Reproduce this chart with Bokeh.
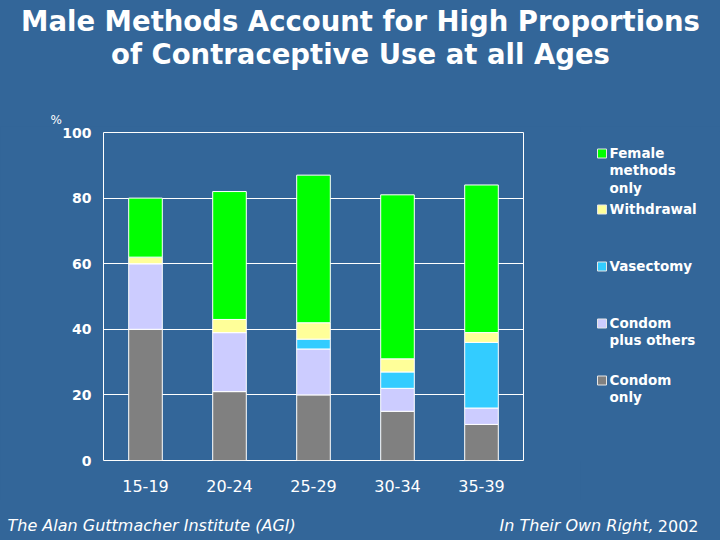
from bokeh.plotting import figure
from bokeh.layouts import column, row
from bokeh.models import Label, FixedTicker, Range1d
from bokeh.embed import file_html
from bokeh.resources import INLINE

# Share of contraceptive use (%) by method, per age group of men
ages = ["15-19", "20-24", "25-29", "30-34", "35-39"]
condom_only = [40, 21, 20, 15, 11]
condom_plus_others = [20, 18, 14, 7, 5]
vasectomy = [0, 0, 3, 5, 20]
withdrawal = [2, 4, 5, 4, 3]
female_only = [18, 39, 45, 50, 45]
y_ticks = [0, 20, 40, 60, 80, 100]

series = ["condom_only", "condom_plus_others", "vasectomy", "withdrawal", "female_only"]
colors = ["#808080", "#CCCCFF", "#33CCFF", "#FFFF99", "#00FF00"]
legend_labels = [["Condom", "only"], ["Condom", "plus others"], ["Vasectomy"],
                 ["Withdrawal"], ["Female", "methods", "only"]]

BG = "#336699"
FONT = "DejaVu Sans"

# page geometry: heading strip, chart + legend row, source strip
TOP_H, MID_H, BOT_H = 126, 374, 40
CHART_W = 580
FRAME_TOP, FRAME_BOTTOM = 132, 460


def panel(x0, x1, y0, y1, border_top=0, border_bottom=0):
    """A plain strip whose data units are page pixels (y counted downward)."""
    f = figure(width=x1 - x0, height=y1 - y0,
               x_range=Range1d(x0, x1),
               y_range=Range1d(y1 - border_bottom, y0 + border_top),
               output_backend="svg", toolbar_location=None,
               x_axis_location=None, y_axis_location=None,
               min_border_left=0, min_border_right=0,
               min_border_top=border_top, min_border_bottom=border_bottom,
               background_fill_color=BG, border_fill_color=BG)
    # paint over the seam between frame and border fills
    f.outline_line_color = BG
    f.outline_line_width = 3
    f.grid.visible = False
    return f


def text(f, s, x, baseline, size, style="normal", align="left"):
    # the label's anchor sits a little above the drawn baseline
    f.add_layout(Label(x=x, y=baseline - 0.36 * size, text=s, text_color="white",
                       text_font=FONT, text_font_size="%gpx" % size,
                       text_font_style=style, text_align=align,
                       text_baseline="alphabetic"))


# ---- heading strip
top = panel(0, 720, 0, TOP_H)
text(top, "Male Methods Account for High Proportions", 360, 30, 27.5, "bold", "center")
text(top, "of Contraceptive Use at all Ages", 360, 63, 27.5, "bold", "center")
text(top, "%", 50, 124, 12)

# ---- stacked bar chart
p = figure(x_range=ages, y_range=Range1d(0, 100), width=CHART_W, height=MID_H,
           output_backend="svg", toolbar_location=None,
           min_border_left=103, min_border_right=CHART_W - 523,
           min_border_top=FRAME_TOP - TOP_H,
           min_border_bottom=TOP_H + MID_H - FRAME_BOTTOM,
           background_fill_color=BG, border_fill_color=BG)
p.outline_line_color = "white"
p.outline_line_width = 1

data = dict(ages=ages, condom_only=condom_only, condom_plus_others=condom_plus_others,
            vasectomy=vasectomy, withdrawal=withdrawal, female_only=female_only)
p.vbar_stack(series, x="ages", width=0.4, color=colors,
             line_color="white", line_width=1, source=data)

p.xgrid.grid_line_color = None
p.ygrid.grid_line_color = "white"
p.ygrid.grid_line_width = 1
p.yaxis.ticker = FixedTicker(ticks=y_ticks)
for ax in (p.xaxis[0], p.yaxis[0]):
    ax.axis_line_color = None
    ax.major_tick_line_color = None
    ax.minor_tick_line_color = None
    ax.major_tick_in = 0
    ax.major_tick_out = 0
    ax.minor_tick_in = 0
    ax.minor_tick_out = 0
    ax.major_label_text_color = "white"
    ax.major_label_text_font = FONT
p.yaxis.major_label_text_font_size = "14px"
p.yaxis.major_label_text_font_style = "bold"
p.yaxis.major_label_standoff = 12
p.xaxis.major_label_text_font_size = "16px"
p.xaxis.major_label_standoff = 19

# ---- legend strip beside the chart, same frame height as the chart
leg = panel(CHART_W, 720, TOP_H, TOP_H + MID_H,
            border_top=FRAME_TOP - TOP_H, border_bottom=TOP_H + MID_H - FRAME_BOTTOM)
swatch_y = [380, 323, 266, 209, 153]        # square centres, one per series
for i in range(len(series) - 1, -1, -1):
    leg.rect(x=[601.5], y=[swatch_y[i]], width=9, height=9,
             fill_color=colors[i], line_color="#E6E6E6", line_width=1)
    for j, line in enumerate(legend_labels[i]):
        text(leg, line, 609, swatch_y[i] + 4 + j * 17.5, 13.5, "bold")

# ---- source strip
bottom = panel(0, 720, TOP_H + MID_H, 540)
text(bottom, "The Alan Guttmacher Institute (AGI)", 7, 531, 16, "italic")
text(bottom, "In Their Own Right,", 653, 531, 16, "italic", "right")
text(bottom, "2002", 698, 531, 16, "normal", "right")

layout = column(top, row(p, leg), bottom, spacing=0)
html = file_html(layout, INLINE)
page_css = "<style>html, body { margin: 0; background: %s; }</style>" % BG
html = html.replace("</head>", page_css + "</head>", 1)
open("out.html", "w").write(html)
